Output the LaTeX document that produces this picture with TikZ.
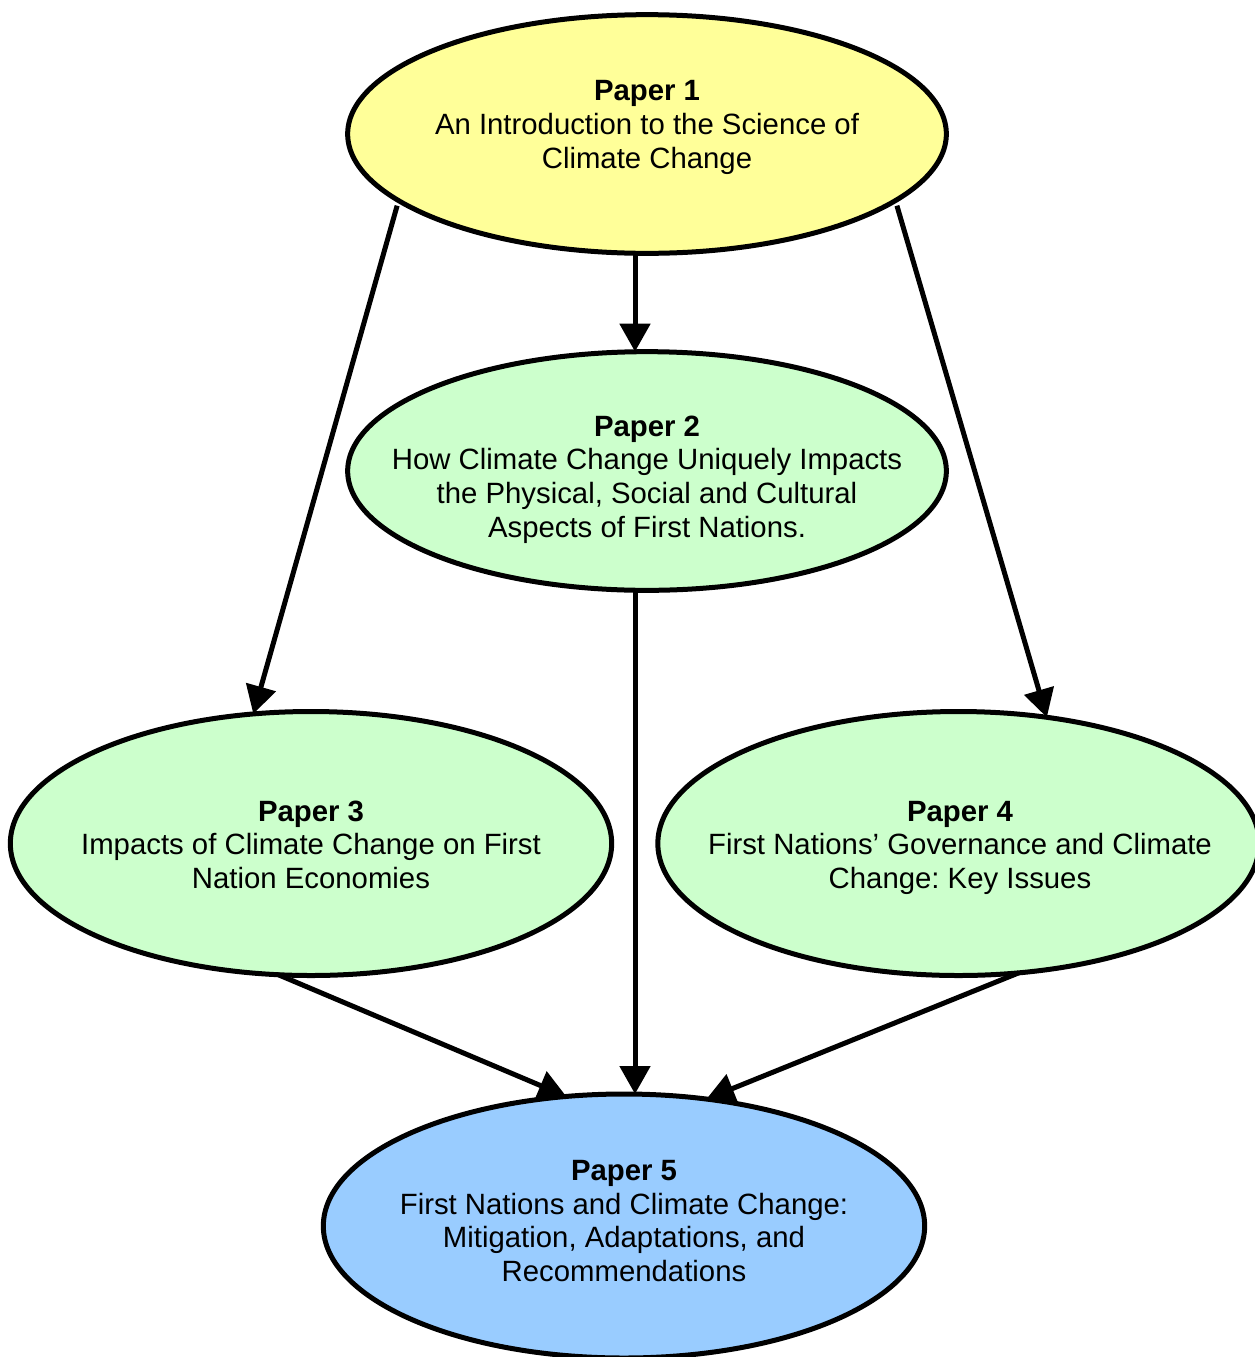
\documentclass[tikz,border=0pt]{standalone}
\usepackage{fontspec}
\setmainfont{Liberation Sans}
\usetikzlibrary{shapes.geometric,arrows.meta}
\definecolor{pyellow}{HTML}{FFFF99}
\definecolor{pgreen}{HTML}{CCFFCC}
\definecolor{pblue}{HTML}{99CCFF}
\frenchspacing
\begin{document}
\begin{tikzpicture}[x=0.75pt,y=-0.75pt,
  paper/.style={ellipse,draw=black,line width=3.75pt,inner sep=0pt,outer sep=0pt},
  small/.style={paper,minimum width=449pt,minimum height=179pt},
  big/.style={paper,minimum width=451pt,minimum height=198pt},
  lbl/.style={align=center,font=\fontsize{22pt}{25.3pt}\selectfont\frenchspacing},
  arr/.style={line width=3.75pt,-{Triangle[length=21pt,width=22.5pt]}}]
\useasboundingbox (0,0) rectangle (1254,1357);
\node[small,fill=pyellow] (p1) at (647,134) {};
\node[small,fill=pgreen] (p2) at (647,471) {};
\node[big,fill=pgreen] (p3) at (311,843.5) {};
\node[big,fill=pgreen] (p4) at (958.5,843.5) {};
\node[big,fill=pblue] (p5) at (624,1226) {};
\node[lbl] (t1) at (647,127.5) {\textbf{Paper 1}\\An Introduction to the Science of\\Climate Change};
\node[lbl] (t2) at (647,479.5) {\textbf{Paper 2}\\How Climate Change Uniquely Impacts\\the Physical, Social and Cultural\\Aspects of First Nations.};
\node[lbl] (t3) at (311,844.7) {\textbf{Paper 3}\\Impacts of Climate Change on First\\Nation Economies};
\node[lbl] (t4) at (960,847.7) {\textbf{Paper 4}\\First Nations’ Governance and Climate\\Change: Key Issues};
\node[lbl] (t5) at (624,1221) {\textbf{Paper 5}\\First Nations and Climate Change:\\Mitigation, Adaptations, and\\Recommendations};
\draw[arr] ([xshift=-9pt]p1.south) -- ([xshift=-9pt]p2.north);
\draw[arr,shorten <=4pt] (p1.195.2) -- (p3.114);
\draw[arr,shorten <=4pt] (p1.345.6) -- (p4.55.5);
\draw[arr] ([xshift=-9pt]p2.south) -- ([xshift=-9pt]p2.south |- p5.north);
\draw[arr] (p3.256) -- (p5.114);
\draw[arr] (p4.295) -- (p5.57.7);
\end{tikzpicture}
\end{document}
